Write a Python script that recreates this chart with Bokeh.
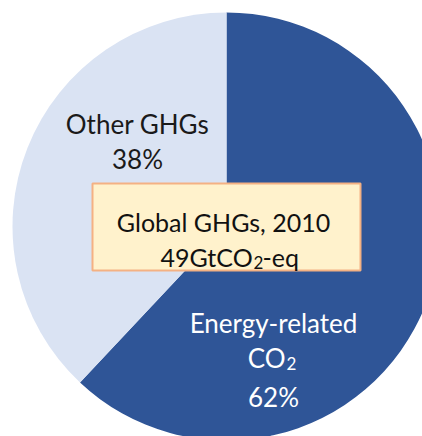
import numpy as np
from bokeh.plotting import figure
from bokeh.models import Range1d
from bokeh.core.properties import value
from bokeh.embed import file_html
from bokeh.resources import INLINE

# data
categories = ["Energy-related CO2", "Other GHGs"]
shares = [62, 38]
colors = ["#2F5597", "#DAE3F3"]

W, H = 422, 436
p = figure(width=W, height=H, output_backend="svg", toolbar_location=None,
           x_axis_location=None, y_axis_location=None, min_border=0,
           x_range=Range1d(0, W), y_range=Range1d(0, H))
p.grid.visible = False
p.outline_line_color = None
p.background_fill_color = "white"

def Y(sy):
    return H - sy

# angles: start at top (pi/2), go clockwise
fr = np.array(shares) / sum(shares)
cum = np.concatenate([[0], np.cumsum(fr)])
cx, cy, r = 226, Y(226), 214
starts = [np.pi / 2 - 2 * np.pi * cum[i + 1] for i in range(len(shares))]
ends = [np.pi / 2 - 2 * np.pi * cum[i] for i in range(len(shares))]
p.wedge(x=cx, y=cy, radius=r, start_angle=starts, end_angle=ends,
        fill_color=colors, line_color=None, direction="anticlock")

F = value("Lato")
def txt(x, y, s, size, color, align="center"):
    p.text(x=[x], y=[Y(y)], text=[s], text_font=F, text_font_size=size,
           text_color=color, text_align=align, text_baseline="alphabetic")

# Other GHGs label
txt(137, 123, "Other GHGs", "26px", "#1a1a1a")
txt(137, 158, f"{shares[1]}%", "26px", "#1a1a1a")

# Energy-related label
txt(273, 322, "Energy-related", "26px", "white")
txt(285, 357, "CO", "26px", "white", "right")
txt(286, 363, "2", "17px", "white", "left")
txt(273, 396, f"{shares[0]}%", "26px", "white")

# center box
p.quad(left=92, right=360, top=Y(183), bottom=Y(270), fill_color="#FFF2CC",
       line_color="#F4B183", line_width=2)
txt(223, 221, "Global GHGs, 2010", "25px", "#111111")
txt(160, 256, "49GtCO", "25px", "#111111", "left")
txt(253, 262, "2", "17px", "#111111", "left")
txt(262, 256, "-eq", "25px", "#111111", "left")

open("out.html", "w").write(file_html(p, INLINE))
